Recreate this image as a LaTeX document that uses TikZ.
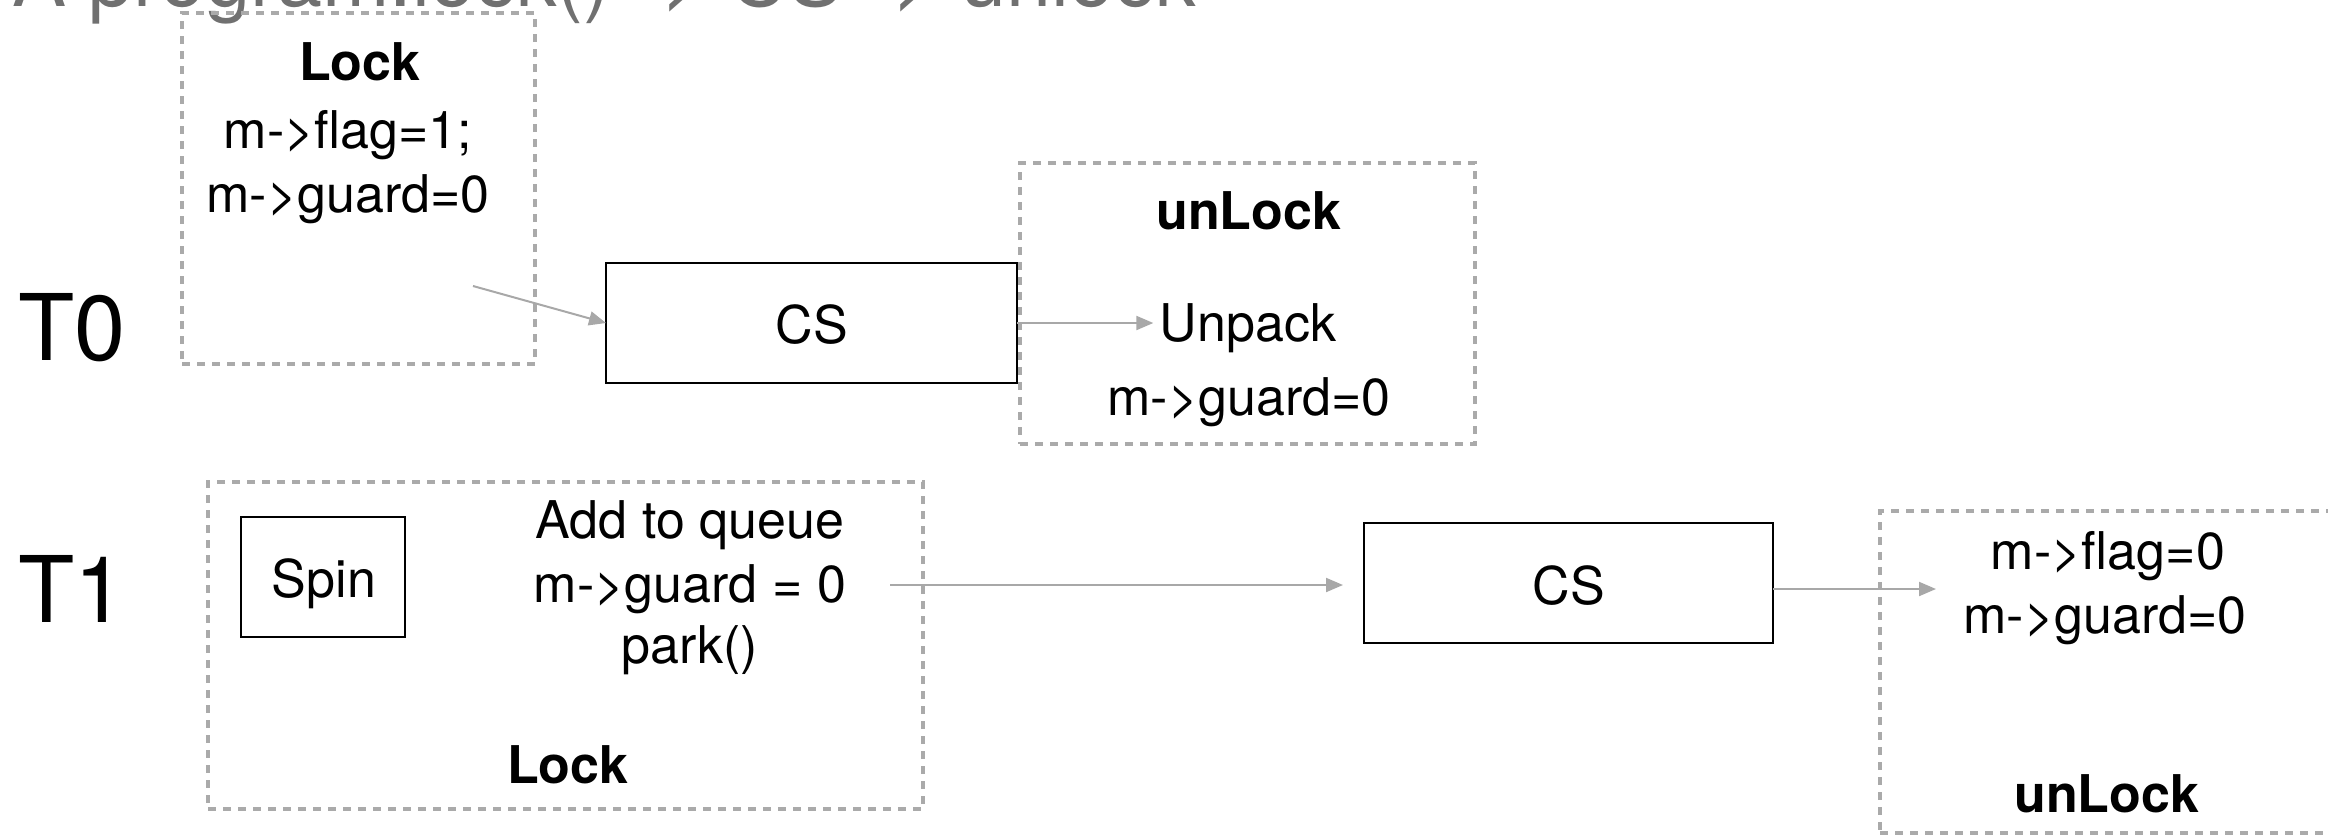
\documentclass[tikz,border=0pt]{standalone}
\usepackage{fontspec}
\setmainfont{TeX Gyre Heros}
\usetikzlibrary{arrows.meta}
\definecolor{dashgray}{RGB}{170,170,170}
\definecolor{arrgray}{RGB}{168,168,168}
\definecolor{titlegray}{RGB}{112,112,112}
\begin{document}
\begin{tikzpicture}[x=0.5pt,y=-0.5pt,
  dashbox/.style={draw=dashgray, line width=2pt, dash pattern=on 4pt off 3.5pt, inner sep=0pt, outer sep=0pt},
  solidbox/.style={draw=black, line width=1.2pt, inner sep=0pt, outer sep=0pt},
  txt/.style={anchor=base, inner sep=0pt, font=\fontsize{26}{31}\selectfont},
  boldtxt/.style={anchor=base, inner sep=0pt, font=\fontsize{26}{31}\selectfont\bfseries},
  biglabel/.style={anchor=base west, inner sep=0pt, font=\fontsize{46}{55}\selectfont},
  arr/.style={draw=arrgray, line width=1pt, -{Triangle[length=8.5pt,width=7pt]}}
]
\useasboundingbox (0,0) rectangle (2328,836);

% title (cut off at the top of the page)
\node[anchor=base west, inner sep=0pt, text=titlegray, font=\fontsize{40.5}{48}\selectfont] (title) at (12,6) {A program:lock() -> CS -> unlock};

% thread labels
\node[biglabel] (t0) at (18,360) {T0};
\node[biglabel] (t1) at (18,622) {T1};

% ---- T0 ----
\node[dashbox, minimum width=176.5pt, minimum height=175.5pt] (lock0) at (358.5,188.5) {};
\node[boldtxt] (lock0title) at (360,80) {Lock};
\node[txt] (lock0a) at (348,148) {m->flag=1;};
\node[txt] (lock0b) at (348,212) {m->guard=0};
\coordinate (s0) at (473,286);

\node[solidbox, minimum width=205.5pt, minimum height=60pt] (cs0) at (811.5,323) {};
\node[txt] (cs0t) at (812,343) {CS};

\node[dashbox, minimum width=227.5pt, minimum height=140.5pt] (unlock0) at (1247.5,303.5) {};
\node[boldtxt] (unlock0title) at (1249,229) {unLock};
\node[txt] (unpack) at (1248,341) {Unpack};
\node[txt] (unlock0b) at (1249,415) {m->guard=0};

\draw[arr] (s0) -- (cs0.west);
\draw[arr] (cs0.east) -- ([xshift=-3pt]cs0.east -| unpack.west);

% ---- T1 ----
\node[dashbox, minimum width=357.5pt, minimum height=163.5pt] (lock1) at (565.5,645.5) {};
\node[solidbox, minimum width=82pt, minimum height=60pt] (spin) at (323,577) {};
\node[txt] (spint) at (324,597) {Spin};
\node[txt] (lock1a) at (690,538) {Add to queue};
\node[txt] (lock1b) at (690,602) {m->guard = 0};
\node[txt] (lock1c) at (690,663) {park()};
\node[boldtxt] (lock1title) at (568,783) {Lock};
\coordinate (s1) at (890,585);

\node[solidbox, minimum width=204.5pt, minimum height=60pt] (cs1) at (1568.5,583) {};
\node[txt] (cs1t) at (1569,604) {CS};

\node[dashbox, minimum width=228pt, minimum height=161pt] (unlock1) at (2108,672) {};
\node[txt] (unlock1a) at (2108,569) {m->flag=0};
\node[txt] (unlock1b) at (2105,633) {m->guard=0};
\node[boldtxt] (unlock1title) at (2107,812) {unLock};
\coordinate (e1) at (1936,589);

\draw[arr, shorten >=10.5pt] (s1) -- (s1 -| cs1.west);
\draw[arr] (e1 -| cs1.east) -- (e1);
\end{tikzpicture}
\end{document}
